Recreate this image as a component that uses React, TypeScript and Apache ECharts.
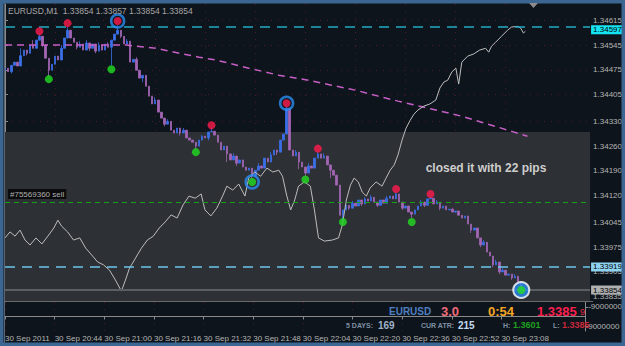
import React, { useEffect, useRef } from "react";
import * as echarts from "echarts";

// ---- data (prices stored as points: 1.3 + pts/100000) ----
const firstOpenPts = 4474;
const closePts = [
  4480, 4470, 4488, 4497, 4486, 4515, 4531, 4522, 4545, 4536,
  4559, 4570, 4545, 4508, 4474, 4491, 4514, 4503, 4536, 4565,
  4587, 4565, 4553, 4539, 4548, 4531, 4551, 4536, 4548, 4528,
  4545, 4531, 4548, 4539, 4559, 4576, 4587, 4570, 4548, 4556,
  4497, 4505, 4474, 4452, 4460, 4429, 4401, 4379, 4390, 4356,
  4339, 4322, 4330, 4305, 4297, 4311, 4297, 4305, 4283, 4277,
  4271, 4260, 4277, 4288, 4283, 4300, 4302, 4291, 4271, 4249,
  4260, 4238, 4221, 4232, 4212, 4221, 4201, 4192, 4198, 4175,
  4192, 4204, 4198, 4226, 4215, 4235, 4249, 4243, 4277, 4294,
  4367, 4249, 4232, 4243, 4215, 4201, 4184, 4204, 4198, 4226,
  4238, 4226, 4232, 4207, 4192, 4178, 4150, 4065, 4080, 4093,
  4085, 4099, 4091, 4108, 4097, 4111, 4105, 4116, 4102, 4093,
  4108, 4099, 4113, 4119, 4111, 4125, 4102, 4085, 4091, 4074,
  4068, 4080, 4091, 4102, 4093, 4111, 4113, 4097, 4102, 4085,
  4091, 4080, 4082, 4074, 4077, 4065, 4057, 4063, 4040, 4023,
  4029, 4001, 3981, 3989, 3961, 3950, 3925, 3933, 3905, 3910,
  3896, 3899, 3888, 3893, 3877, 3854,
];
const highWickPts: Record<number, number> = {
  5: 4536, 9: 4559, 11: 4576, 18: 4545, 20: 4596, 24: 4556, 26: 4559, 30: 4553, 33: 4553, 36: 4601, 39: 4562,
  42: 4511, 48: 4398, 52: 4336, 57: 4311, 63: 4291, 66: 4311, 68: 4291, 73: 4240, 81: 4212, 85: 4243, 90: 4373,
  93: 4249, 97: 4212, 100: 4246, 102: 4240, 111: 4105, 115: 4116, 117: 4122, 122: 4119, 125: 4130, 133: 4108,
  136: 4119, 138: 4108, 143: 4085, 153: 3995, 157: 3939, 159: 3916, 163: 3899,
};
const lowWickPts: Record<number, number> = {
  2: 4465, 7: 4516, 12: 4540, 14: 4457, 16: 4500, 23: 4533, 27: 4528, 29: 4522, 34: 4488, 37: 4565, 44: 4440,
  46: 4418, 51: 4316, 56: 4290, 61: 4252, 65: 4276, 71: 4215, 74: 4204, 79: 4167, 83: 4218, 87: 4235, 94: 4195,
  96: 4176, 104: 4170, 108: 4054, 110: 4080, 114: 4091, 119: 4088, 127: 4080, 130: 4057, 134: 4088, 139: 4079,
  144: 4071, 149: 4015, 152: 3975, 156: 3918, 158: 3899, 162: 3883, 165: 3852,
};

const whiteLineIdx = [0, 1.6, 3.2, 4.8, 6.4, 8.0, 9.9, 11.8, 13.7, 15.6, 16.9, 18.1, 20.0, 21.9, 23.9, 25.8, 27.7, 29.6, 31.5, 33.4, 35.3, 37.2, 38.5, 39.8, 41.0, 42.3, 43.6, 45.5, 47.4, 49.3, 51.2, 53.1, 55.0, 56.9, 58.8, 60.8, 62.7, 63.9, 65.8, 67.7, 69.7, 70.9, 72.8, 74.7, 76.7, 77.9, 79.8, 81.7, 83.7, 85.6, 87.5, 88.7, 90.0, 91.3, 92.6, 93.8, 95.7, 97.6, 98.9, 100.2, 102.1, 104.6, 106.6, 107.8, 109.1, 110.4, 111.6, 112.9, 114.2, 115.5, 116.7, 118.6, 120.5, 121.8, 123.1, 124.4, 125.6, 126.9, 128.2, 129.5, 130.7, 132.0, 133.9, 135.8, 137.7, 139.0, 140.3, 141.5, 142.8, 144.1, 145.0, 146.0, 147.9, 149.8, 151.7, 153.6, 154.6, 155.5, 156.8, 158.7, 160.6, 161.9, 163.8, 164.8, 165.7, 166.3];
const whiteLinePts = [4001, 4018, 4006, 4023, 3995, 3981, 4001, 3984, 4006, 4029, 4051, 4034, 4018, 3995, 4001, 3972, 3953, 3933, 3925, 3910, 3882, 3851, 3882, 3916, 3933, 3953, 3972, 3995, 4006, 4029, 4046, 4066, 4057, 4094, 4119, 4113, 4125, 4080, 4063, 4085, 4122, 4147, 4136, 4153, 4119, 4170, 4187, 4175, 4198, 4187, 4192, 4175, 4122, 4080, 4108, 4147, 4159, 4147, 4080, 4001, 3992, 3995, 4001, 4037, 4108, 4150, 4170, 4159, 4130, 4119, 4142, 4159, 4147, 4170, 4192, 4207, 4235, 4277, 4311, 4333, 4350, 4362, 4373, 4379, 4390, 4424, 4441, 4446, 4469, 4480, 4435, 4497, 4514, 4520, 4531, 4536, 4525, 4542, 4553, 4570, 4587, 4596, 4598, 4593, 4579, 4584];

const maIdx = [0, 17.5, 38.8, 48.3, 55.7, 62.0, 67.4, 77.9, 87.5, 97.0, 104.3, 112.0, 119.3, 125.6, 135.2, 145.7, 157.4, 167.0];
const maPts = [4545, 4545, 4545, 4536, 4522, 4511, 4503, 4480, 4460, 4446, 4432, 4418, 4401, 4387, 4367, 4345, 4314, 4288];

const fractalUpIdx = [11, 20, 36, 66, 90, 100, 125, 136];
const fractalUpPts = [4584, 4607, 4613, 4319, 4381, 4253, 4139, 4125];
const fractalDownIdx = [14, 34, 61, 79, 96, 108, 130, 165];
const fractalDownPts = [4449, 4477, 4243, 4159, 4166, 4046, 4046, 3854];
const ringIdx = [36, 90, 79];
const ringPts = [4613, 4381, 4159];
const lastIdx = 165;
const lastPts = 3854;

const priceTickLabels = [1.34615, 1.34545, 1.34475, 1.34405, 1.3433, 1.3426, 1.3419, 1.3412, 1.34045, 1.33975, 1.33905, 1.33835];
const timeTickLabels = ["30 Sep 2011", "30 Sep 20:44", "30 Sep 21:00", "30 Sep 21:16", "30 Sep 21:32", "30 Sep 21:48", "30 Sep 22:04", "30 Sep 22:20", "30 Sep 22:36", "30 Sep 22:52", "30 Sep 23:08"];
const subTickLabels = [-9000000, 9000000];

const levelTop = 1.34597;
const levelBottom = 1.33919;
const levelOrder = 1.34102;
const bidPrice = 1.33854;
const zoneTop = 1.343;

const barCount = 188;
const yMin = 1.33823;
const yMax = 1.34661;

const toPrice = (p: number) => 1.3 + p / 100000;

const FONT = '"Liberation Sans", Arial, sans-serif';

export default function App() {
  const ref = useRef<HTMLDivElement>(null);
  useEffect(() => {
    if (!ref.current) return;
    const chart = echarts.init(ref.current, null, { renderer: "svg" });
    const cats = Array.from({ length: barCount }, (_, i) => String(i));
    const candles = closePts.map((c, i) => {
      const o = i === 0 ? firstOpenPts : closePts[i - 1];
      const h = Math.max(highWickPts[i] ?? 0, o, c);
      const l = Math.min(lowWickPts[i] ?? 99999, o, c);
      return [toPrice(o), toPrice(c), toPrice(l), toPrice(h)];
    });
    const white = whiteLineIdx.map((x, i) => [x, toPrice(whiteLinePts[i])]);
    const ma = maIdx.map((x, i) => [x, toPrice(maPts[i])]);
    const ups = fractalUpIdx.map((x, i) => [x, toPrice(fractalUpPts[i])]);
    const downs = fractalDownIdx.map((x, i) => [x, toPrice(fractalDownPts[i])]);
    const rings = ringIdx.map((x, i) => [x, toPrice(ringPts[i])]);
    const tickShown = (i: number) => i % 16 === 0 && i / 16 < timeTickLabels.length;

    const txt = (text: string, x: number, y: number, font: string, fill: string, align = "left") => ({
      type: "text",
      x,
      y,
      silent: true,
      z: 100,
      style: { text, font, fill, align, textAlign: align, verticalAlign: "middle", textVerticalAlign: "middle" },
    });
    const boxLabel = (text: string, bg: string, dy = 0) => ({
      show: true, position: "end", distance: 1, formatter: text, backgroundColor: bg, color: "#000",
      fontSize: 8, fontFamily: FONT, padding: [0, 3, 0, 2], lineHeight: 9, offset: [0, dy],
    });
    const gridDots = { show: true, lineStyle: { color: "#4a1a26", width: 1, type: [1, 6] } };

    const option: any = {
      animation: false,
      backgroundColor: "#0e141b",
      grid: [
        { left: 5, right: 32, top: 4, height: 297 },
        { left: 5, right: 32, top: 302, height: 29 },
      ],
      xAxis: [
        { type: "category", gridIndex: 0, data: cats, boundaryGap: false, axisLine: { show: false }, axisTick: { show: false, interval: (i: number) => tickShown(i) }, axisLabel: { show: false }, splitLine: { ...gridDots, interval: (i: number) => tickShown(i) } },
        { type: "value", gridIndex: 0, min: 0, max: barCount - 1, show: false },
        {
          type: "category", gridIndex: 1, data: cats, boundaryGap: false,
          axisLine: { show: true, lineStyle: { color: "#8a8a8a", width: 1 } },
          axisTick: { show: true, interval: (i: number) => tickShown(i), length: 3, inside: false, lineStyle: { color: "#8a8a8a" } },
          axisLabel: {
            show: true, interval: (i: number) => tickShown(i), align: "left", margin: 3,
            color: "#b4b4b4", fontSize: 8, fontFamily: FONT,
            formatter: (_v: string, i: number) => (tickShown(i) ? timeTickLabels[i / 16] : ""),
          },
          splitLine: { ...gridDots, interval: (i: number) => tickShown(i) },
        },
      ],
      yAxis: [
        {
          type: "value", gridIndex: 0, position: "right", min: yMin, max: yMax,
          axisLine: { show: true, lineStyle: { color: "#8a8a8a" } },
          axisTick: { show: true, length: 3, customValues: priceTickLabels, lineStyle: { color: "#8a8a8a" } },
          axisLabel: { show: true, customValues: priceTickLabels, color: "#b4b4b4", fontSize: 8, fontFamily: FONT, margin: 3, formatter: (v: number) => v.toFixed(5) },
          splitLine: gridDots,
        },
        {
          type: "value", gridIndex: 1, position: "right", min: -13700000, max: 13700000, inverse: true,
          axisLine: { show: true, lineStyle: { color: "#8a8a8a" } },
          axisTick: { show: true, length: 3, customValues: subTickLabels, lineStyle: { color: "#8a8a8a" } },
          axisLabel: { show: true, customValues: subTickLabels, color: "#b4b4b4", fontSize: 8, fontFamily: FONT, margin: 3, formatter: (v: number) => String(v) },
          splitLine: { show: false },
        },
      ],
      series: [
        {
          type: "line", xAxisIndex: 1, yAxisIndex: 0, data: [], z: 1, silent: true,
          markArea: { silent: true, itemStyle: { color: "#2d3034" }, data: [[{ yAxis: zoneTop }, { yAxis: yMin }]] },
        },
        {
          type: "candlestick", xAxisIndex: 0, yAxisIndex: 0, data: candles, z: 3, barWidth: 2,
          itemStyle: { color: "#3b6fe6", color0: "#a266b4", borderColor: "#3b6fe6", borderColor0: "#a266b4", borderWidth: 0.8 },
        },
        {
          type: "line", xAxisIndex: 1, yAxisIndex: 0, data: ma, z: 4, showSymbol: false, silent: true,
          lineStyle: { color: "#c65fc6", width: 1.5, type: [7, 5] },
        },
        {
          type: "line", xAxisIndex: 1, yAxisIndex: 0, data: white, z: 4, showSymbol: false, silent: true,
          lineStyle: { color: "#bdbdbd", width: 1 },
          markLine: {
            silent: true, symbol: "none", animation: false, precision: 5,
            data: [
              { yAxis: levelTop, lineStyle: { color: "#25a9c3", width: 1.5, type: [10, 7] }, label: boxLabel("1.34597", "#14e4f2", 3) },
              { yAxis: levelBottom, lineStyle: { color: "#6cc5ec", width: 1.5, type: [10, 7] }, label: boxLabel("1.33919", "#8fd3f3") },
              { yAxis: levelOrder, lineStyle: { color: "#16a016", width: 1, type: [5, 4] }, label: { show: true, position: "insideStartTop", distance: 3, formatter: "#75569360 sell", backgroundColor: "#0b0b0b", color: "#b0b0b0", fontSize: 8, fontFamily: FONT, padding: [1, 2] } },
              { yAxis: bidPrice, lineStyle: { color: "#5b5f63", width: 2, type: "solid" }, label: boxLabel("1.33854", "#aeb0b2") },
            ],
          },
        },
        {
          type: "scatter", xAxisIndex: 1, yAxisIndex: 0, data: rings, z: 6, symbolSize: 13, silent: true,
          itemStyle: { color: "rgba(0,0,0,0)", borderColor: "#2a8cf0", borderWidth: 2.5 },
        },
        {
          type: "scatter", xAxisIndex: 1, yAxisIndex: 0, data: [[lastIdx, toPrice(lastPts)]], z: 6, symbolSize: 16, silent: true,
          itemStyle: { color: "#2a8cf0", borderColor: "#ffffff", borderWidth: 2 },
        },
        {
          type: "scatter", xAxisIndex: 1, yAxisIndex: 0, data: ups, z: 7, symbolSize: 8, silent: true,
          itemStyle: { color: "#ff1a4e" },
        },
        {
          type: "scatter", xAxisIndex: 1, yAxisIndex: 0, data: downs, z: 7, symbolSize: 8, silent: true,
          itemStyle: { color: "#22dd22" },
        },
      ],
      graphic: [
        { type: "rect", silent: true, z: 200, shape: { x: 0, y: 0, width: 625, height: 346 }, style: { fill: "none", stroke: "#3b6692", lineWidth: 7 } },
        { type: "line", silent: true, z: 50, shape: { x1: 4.5, y1: 3, x2: 4.5, y2: 343 }, style: { stroke: "#5a6470", lineWidth: 1 } },
        { type: "line", silent: true, z: 50, shape: { x1: 4, y1: 301.5, x2: 593, y2: 301.5 }, style: { stroke: "#6a6a6a", lineWidth: 1 } },
        { type: "polygon", silent: true, z: 210, shape: { points: [[529, 3], [538, 3], [533.5, 8]] }, style: { fill: "#8c8c8c" } },
        txt("EURUSD,M1  1.33854 1.33857 1.33854 1.33854", 8, 11, `8.5px ${FONT}`, "#a6a6a6"),
        txt("closed it with 22 pips", 486, 168, `bold 12px ${FONT}`, "#cdcdcd", "center"),
        txt("EURUSD", 389, 311, `bold 10px ${FONT}`, "#4f7fc0"),
        txt("3.0", 441, 311, `bold 13px ${FONT}`, "#f26a7a"),
        txt("0:54", 488, 311, `bold 13px ${FONT}`, "#f5a623"),
        txt("1.3385", 537, 311, `bold 13px ${FONT}`, "#ff1f4f"),
        txt("9", 580, 312, `9px ${FONT}`, "#e02848"),
        txt("5 DAYS:", 346, 325, `bold 7px ${FONT}`, "#7f90a6"),
        txt("169", 378, 325, `bold 10px ${FONT}`, "#9fb2c8"),
        txt("CUR ATR:", 421, 325, `bold 7px ${FONT}`, "#7f90a6"),
        txt("215", 458, 325, `bold 10px ${FONT}`, "#c2dcf4"),
        txt("H:", 503, 325, `bold 7px ${FONT}`, "#7f90a6"),
        txt("1.3601", 513, 325, `bold 9px ${FONT}`, "#1fa01f"),
        txt("L:", 553, 325, `bold 7px ${FONT}`, "#7f90a6"),
        txt("1.3385", 562, 325, `bold 9px ${FONT}`, "#c8283a"),
      ],
    };
    chart.setOption(option);
    return () => chart.dispose();
  }, []);
  return (
    <div style={{ position: "fixed", left: 0, top: 0, width: 625, height: 346 }}>
      <div ref={ref} style={{ width: 625, height: 346 }} />
    </div>
  );
}
